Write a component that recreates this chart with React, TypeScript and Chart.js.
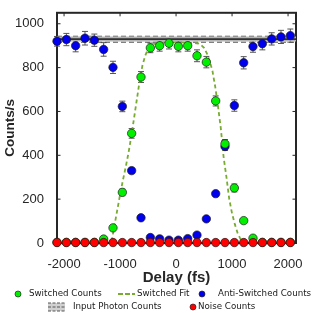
import React, { useEffect, useRef } from 'react';
import { Chart, registerables } from 'chart.js';

Chart.register(...registerables);

// ---- data ----
const delays = [-2126, -1959, -1793, -1626, -1459, -1293, -1126, -959, -793, -626, -459, -293, -126, 41, 208, 374, 541, 708, 874, 1041, 1208, 1374, 1541, 1708, 1874, 2041];

const switchedCounts = [3, 3, 3, 3, 3, 18, 69, 231, 500, 757, 890, 900, 911, 897, 900, 854, 825, 648, 452, 251, 102, 22, 3, 3, 3, 3];
const switchedErr = [2, 2, 2, 2, 2, 4, 6, 15, 22, 25, 22, 25, 26, 25, 25, 27, 26, 23, 20, 18, 8, 5, 2, 2, 2, 2];

const antiCounts = [920, 928, 900, 934, 925, 883, 801, 623, 330, 115, 25, 19, 13, 13, 20, 36, 110, 225, 440, 627, 822, 896, 909, 931, 940, 946];
const antiErr = [22, 28, 28, 31, 28, 31, 28, 24, 12, 5, 3, 3, 3, 3, 3, 5, 6, 8, 18, 26, 28, 26, 28, 28, 30, 30];

const noiseCounts = [2, 2, 2, 2, 2, 2, 2, 2, 2, 2, 2, 2, 2, 2, 2, 2, 2, 2, 2, 2, 2, 2, 2, 2, 2, 2];
const noiseErr = [1, 1, 1, 1, 1, 1, 1, 1, 1, 1, 1, 1, 1, 1, 1, 1, 1, 1, 1, 1, 1, 1, 1, 1, 1, 1];

const fitDelays = [-1150, -1100, -1050, -1000, -950, -900, -850, -800, -750, -700, -650, -600, -550, -500, -450, -400, -300, -200, -100, 0, 100, 200, 300, 400, 450, 500, 550, 600, 650, 700, 750, 800, 850, 900, 950, 1000, 1050, 1100, 1150, 1200];
const fitCounts = [8, 80, 150, 220, 285, 345, 410, 485, 570, 655, 740, 810, 855, 885, 900, 907, 912, 914, 915, 915, 915, 914, 913, 910, 903, 890, 865, 830, 785, 712, 622, 522, 390, 300, 200, 135, 85, 45, 18, 4];

const inputMean = 930;
const inputLow = 916;
const inputHigh = 943;

const xRange = [-2126, 2142];
const yRange = [0, 1050];
const xTicks = [-2000, -1000, 0, 1000, 2000];
const yTicks = [0, 200, 400, 600, 800, 1000];

const legendLabels = ['Switched Counts', 'Switched Fit', 'Anti-Switched Counts', 'Input Photon Counts', 'Noise Counts'];

// ---- styles ----
const AXIS = '#262626';
const GREEN = '#00f000';
const BLUE = '#0000ee';
const RED = '#ff0000';
const FIT = '#77ac30';

const pts = (xs: number[], ys: number[]) => xs.map((x, i) => ({ x, y: ys[i] }));

const errorBarPlugin = {
  id: 'errorBars',
  beforeDatasetsDraw(chart: any) {
    const ctx = chart.ctx;
    const ys = chart.scales.y;
    chart.data.datasets.forEach((ds: any, i: number) => {
      if (!ds.errors) return;
      const meta = chart.getDatasetMeta(i);
      ctx.save();
      ctx.strokeStyle = '#555555';
      ctx.lineWidth = 1;
      meta.data.forEach((pt: any, j: number) => {
        const v = ds.data[j].y;
        const e = ds.errors[j];
        const y1 = ys.getPixelForValue(v + e);
        const y2 = ys.getPixelForValue(v - e);
        if (y2 - y1 < 3) return;
        ctx.beginPath();
        ctx.moveTo(pt.x, y1);
        ctx.lineTo(pt.x, y2);
        ctx.moveTo(pt.x - 3, y1);
        ctx.lineTo(pt.x + 3, y1);
        ctx.moveTo(pt.x - 3, y2);
        ctx.lineTo(pt.x + 3, y2);
        ctx.stroke();
      });
      ctx.restore();
    });
  },
};

const framePlugin = {
  id: 'frame',
  beforeDatasetsDraw(chart: any) {
    const { ctx, chartArea: a } = chart;
    const xs = chart.scales.x;
    const ys = chart.scales.y;
    ctx.save();
    ctx.strokeStyle = AXIS;
    ctx.lineWidth = 1;
    const tl = 3.5;
    ctx.beginPath();
    xs.ticks.forEach((t: any) => {
      const px = xs.getPixelForValue(t.value);
      ctx.moveTo(px, a.bottom);
      ctx.lineTo(px, a.bottom - tl);
      ctx.moveTo(px, a.top);
      ctx.lineTo(px, a.top + tl);
    });
    ys.ticks.forEach((t: any) => {
      const py = ys.getPixelForValue(t.value);
      ctx.moveTo(a.left, py);
      ctx.lineTo(a.left + tl, py);
      ctx.moveTo(a.right, py);
      ctx.lineTo(a.right - tl, py);
    });
    ctx.stroke();
    ctx.lineWidth = 2;
    ctx.strokeRect(a.left, a.top, a.right - a.left, a.bottom - a.top);
    ctx.restore();
  },
};

const legendPlugin = {
  id: 'customLegend',
  afterDraw(chart: any) {
    const ctx = chart.ctx;
    ctx.save();
    ctx.font = '8.7px "DejaVu Sans"';
    ctx.fillStyle = '#1a1a1a';
    ctx.textBaseline = 'middle';
    ctx.textAlign = 'left';
    const r1 = 294;
    const r2 = 307;
    const dot = (x: number, y: number, c: string) => {
      ctx.beginPath();
      ctx.arc(x, y, 3, 0, Math.PI * 2);
      ctx.fillStyle = c;
      ctx.fill();
      ctx.lineWidth = 0.7;
      ctx.strokeStyle = '#222';
      ctx.stroke();
      ctx.fillStyle = '#1a1a1a';
    };
    dot(18, r1, GREEN);
    ctx.fillText(legendLabels[0], 29, r1);
    ctx.save();
    ctx.strokeStyle = FIT;
    ctx.lineWidth = 2;
    ctx.setLineDash([5, 2]);
    ctx.beginPath();
    ctx.moveTo(118, r1);
    ctx.lineTo(135, r1);
    ctx.stroke();
    ctx.restore();
    ctx.fillText(legendLabels[1], 137, r1);
    dot(202, r1, BLUE);
    ctx.fillText(legendLabels[2], 218, r1);

    // input photon icon
    ctx.save();
    ctx.fillStyle = '#d0d0d0';
    ctx.fillRect(48, r2 - 4, 17, 8);
    ctx.strokeStyle = '#555';
    ctx.lineWidth = 1;
    ctx.setLineDash([3, 1.5]);
    ctx.beginPath();
    ctx.moveTo(48, r2 - 4);
    ctx.lineTo(65, r2 - 4);
    ctx.moveTo(48, r2 + 4);
    ctx.lineTo(65, r2 + 4);
    ctx.moveTo(48, r2);
    ctx.lineTo(65, r2);
    ctx.stroke();
    ctx.restore();
    ctx.fillText(legendLabels[3], 73, r2);
    dot(193, r2, RED);
    ctx.fillText(legendLabels[4], 198, r2);
    ctx.restore();
  },
};

const bgPlugin = {
  id: 'bg',
  beforeDraw(chart: any) {
    const ctx = chart.ctx;
    ctx.save();
    ctx.fillStyle = '#ffffff';
    ctx.fillRect(0, 0, chart.width, chart.height);
    ctx.restore();
  },
};

export default function App() {
  const ref = useRef<HTMLCanvasElement | null>(null);

  useEffect(() => {
    if (!ref.current) return;
    const hLine = (y: number) => [
      { x: xRange[0], y },
      { x: xRange[1], y },
    ];
    const pointStyle = (bg: string, order: number) => ({
      showLine: false,
      pointRadius: 4.2,
      pointBackgroundColor: bg,
      pointBorderColor: '#1a1a1a',
      pointBorderWidth: 0.7,
      clip: false as any,
      order,
    });
    const chart = new Chart(ref.current, {
      type: 'scatter',
      data: {
        datasets: [
          { label: 'Noise Counts', data: pts(delays, noiseCounts), errors: noiseErr, ...pointStyle(RED, 0) } as any,
          { label: 'Switched Counts', data: pts(delays, switchedCounts), errors: switchedErr, ...pointStyle(GREEN, 1) } as any,
          { label: 'Anti-Switched Counts', data: pts(delays, antiCounts), errors: antiErr, ...pointStyle(BLUE, 2) } as any,
          {
            label: 'Switched Fit',
            data: pts(fitDelays, fitCounts),
            showLine: true,
            pointRadius: 0,
            borderColor: FIT,
            borderWidth: 1.8,
            borderDash: [4, 3],
            tension: 0,
            order: 3,
          } as any,
          { label: 'Input mean', data: hLine(inputMean), showLine: true, pointRadius: 0, borderColor: '#303030', borderWidth: 1.8, order: 4 } as any,
          { label: 'Input halo', data: hLine(inputMean), showLine: true, pointRadius: 0, borderColor: '#b4b4b4', borderWidth: 5, order: 5 } as any,
          { label: 'Input high', data: hLine(inputHigh), showLine: true, pointRadius: 0, borderColor: '#444444', borderWidth: 1, borderDash: [5, 3], order: 6 } as any,
          { label: 'Input low', data: hLine(inputLow), showLine: true, pointRadius: 0, borderColor: '#444444', borderWidth: 1, borderDash: [5, 3], order: 7 } as any,
        ],
      },
      options: {
        responsive: false,
        animation: false,
        devicePixelRatio: 1,
        events: [],
        layout: { padding: { top: 3, right: 16, bottom: 22, left: 0 } },
        plugins: {
          legend: { display: false },
          tooltip: { enabled: false },
        },
        scales: {
          x: {
            type: 'linear',
            min: xRange[0],
            max: xRange[1],
            grid: { display: false },
            border: { display: false },
            afterBuildTicks: (s: any) => {
              s.ticks = xTicks.map((v) => ({ value: v }));
            },
            ticks: {
              padding: 6,
              color: AXIS,
              maxRotation: 0,
              autoSkip: false,
              callback: (v: any) => String(v),
              font: { family: '"Liberation Sans", Arial, sans-serif', size: 13 },
            },
            title: {
              display: true,
              text: 'Delay (fs)',
              color: AXIS,
              padding: { top: 0, bottom: 4 },
              font: { family: '"Liberation Sans", Arial, sans-serif', size: 15, weight: 'bold' },
            },
            afterFit: (s: any) => {
              s.height = 48;
            },
          },
          y: {
            type: 'linear',
            min: yRange[0],
            max: yRange[1],
            grid: { display: false },
            border: { display: false },
            afterBuildTicks: (s: any) => {
              s.ticks = yTicks.map((v) => ({ value: v }));
            },
            ticks: {
              padding: 5,
              color: AXIS,
              autoSkip: false,
              callback: (v: any) => String(v),
              font: { family: '"Liberation Sans", Arial, sans-serif', size: 13 },
            },
            title: {
              display: true,
              text: 'Counts/s',
              color: AXIS,
              padding: { top: 2, bottom: 0 },
              font: { family: '"Liberation Sans", Arial, sans-serif', size: 13.5, weight: 'bold' },
            },
            afterFit: (s: any) => {
              s.width = 57;
            },
          },
        },
      } as any,
      plugins: [bgPlugin, framePlugin, errorBarPlugin, legendPlugin],
    });
    return () => chart.destroy();
  }, []);

  return (
    <div style={{ position: 'fixed', left: 0, top: 0, width: 312, height: 313, background: '#fff' }}>
      <canvas ref={ref} width={312} height={313} style={{ display: 'block' }} />
    </div>
  );
}
